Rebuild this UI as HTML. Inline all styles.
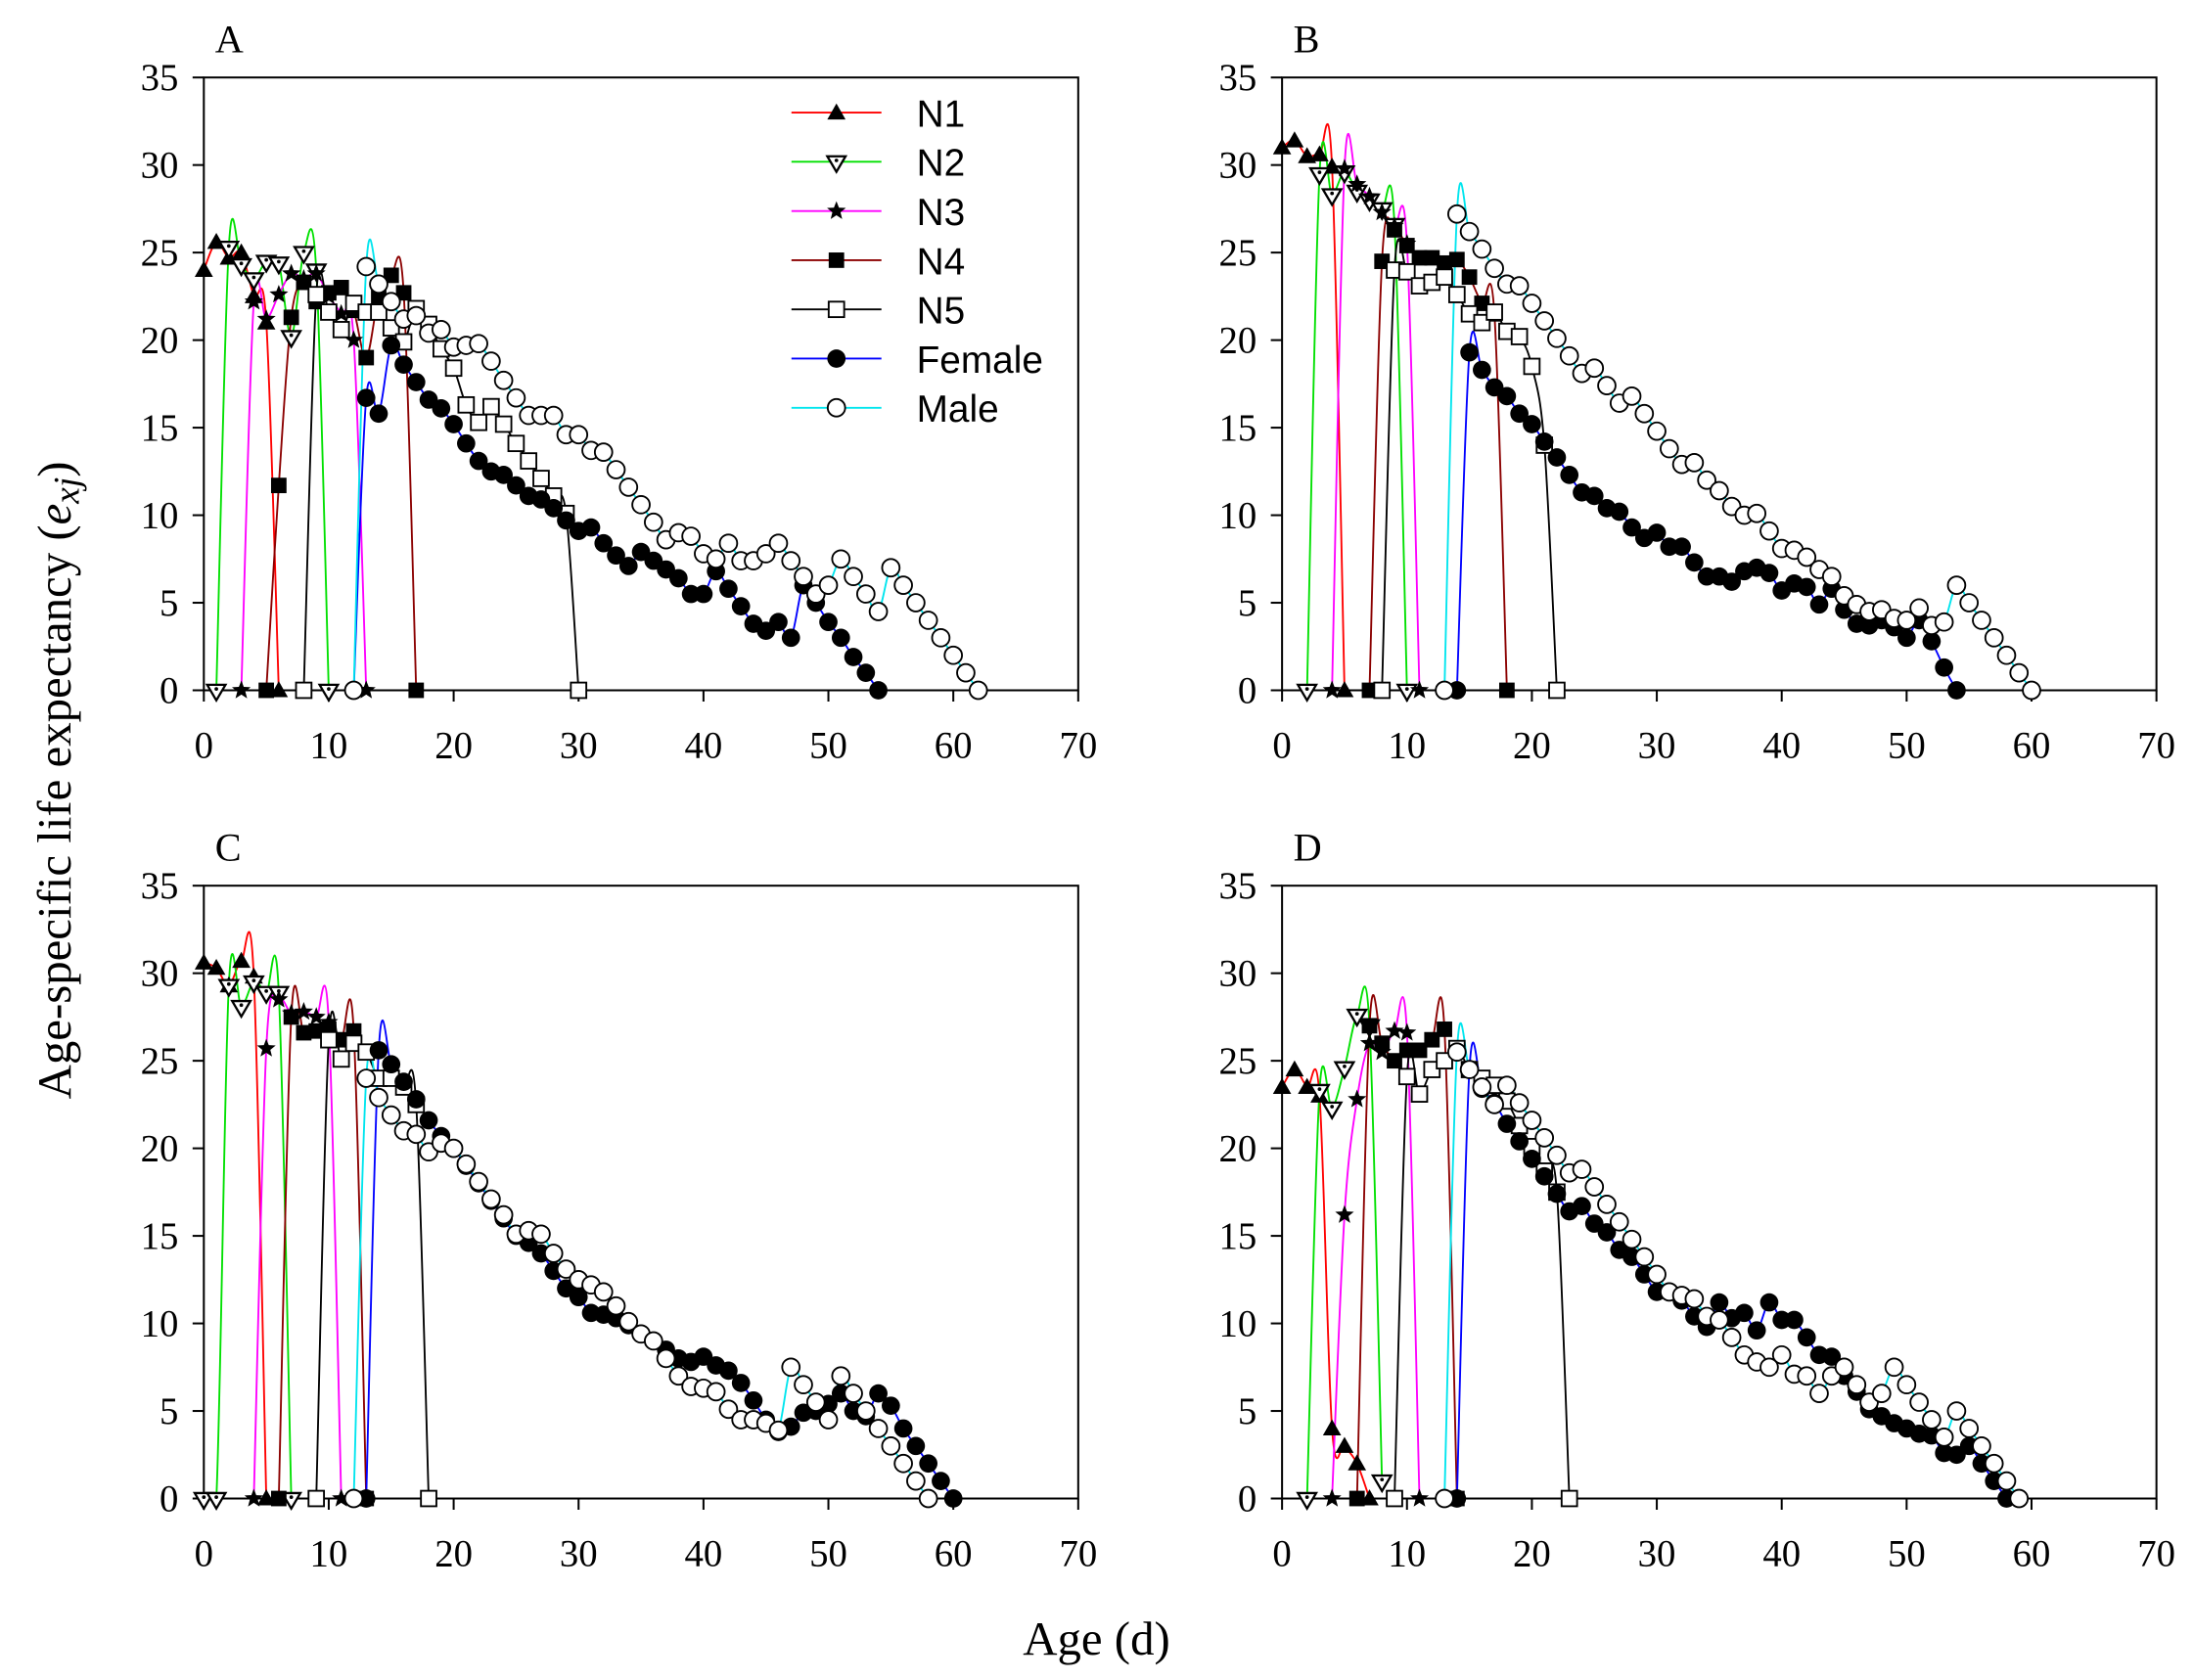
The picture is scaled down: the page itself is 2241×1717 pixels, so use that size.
<!DOCTYPE html>
<html><head><meta charset="utf-8"><style>
html,body{margin:0;padding:0;background:#fff}
svg{display:block}
</style></head><body>
<svg id="chart" width="2241" height="1717" viewBox="0 0 1560 1195" xmlns="http://www.w3.org/2000/svg" font-family="Liberation Serif, serif">
<text x="780" y="1177" font-size="34" text-anchor="middle">Age (d)</text>
<text transform="translate(50,555) rotate(-90)" font-size="34" text-anchor="middle">Age-specific life expectancy (<tspan font-style="italic">e</tspan><tspan font-style="italic" font-size="26" dy="6">xj</tspan><tspan dy="-6">)</tspan></text>
</svg>
<script>
// ---- Data (ages start index + values) ----
const xTicks=[0,10,20,30,40,50,60,70];
const yTicks=[0,5,10,15,20,25,30,35];
const seriesNames=["N1","N2","N3","N4","N5","Female","Male"];
const panelLabels=["A","B","C","D"];
// Panel A
const A_start=[0,1,3,5,8,12,12];
const A_N1=[24,25.6,24.7,25,22.5,21,0];
const A_N2=[0,25.3,24.3,23.5,24.5,24.4,20.2,25,24,0];
const A_N3=[0,22.2,21.2,22.6,23.8,23.5,23.8,22.5,21.5,20,0];
const A_N4=[0,11.7,21.3,23.3,22.2,22.7,23,21.7,19,22.5,23.7,22.7,0];
const A_N5=[0,22.6,21.6,20.6,22.1,21.6,21.6,20.7,19.9,21.8,20.9,19.5,18.4,16.3,15.3,16.2,15.2,14.1,13.1,12.1,11.1,10.1,0];
const A_F=[0,16.7,15.8,19.7,18.6,17.6,16.6,16.1,15.2,14.1,13.1,12.5,12.3,11.7,11.1,10.9,10.4,9.7,9.1,9.3,8.4,7.7,7.1,7.9,7.4,6.9,6.4,5.5,5.5,6.8,5.8,4.8,3.8,3.4,3.9,3,6,5,3.9,3,1.9,1,0];
const A_M=[0,24.2,23.2,22.2,21.2,21.4,20.4,20.6,19.6,19.7,19.8,18.8,17.7,16.7,15.7,15.7,15.7,14.6,14.6,13.7,13.6,12.6,11.6,10.6,9.6,8.6,9,8.8,7.8,7.5,8.4,7.4,7.4,7.8,8.4,7.4,6.5,5.5,6,7.5,6.5,5.5,4.5,7,6,5,4,3,2,1,0];
// Panel B
const B_start=[0,2,4,7,8,14,13];
const B_N1=[31,31.4,30.5,30.6,29.9,0];
const B_N2=[0,29.5,28.3,29.6,28.5,28,27.5,26.6,0];
const B_N3=[0,29.8,28.9,28.2,27.3,26.5,25.5,0];
const B_N4=[0,24.5,26.3,25.4,24.7,24.7,24.4,24.6,23.6,22.1,21.5,0];
const B_N5=[0,24,23.9,23.1,23.3,23.6,22.6,21.5,21,21.6,20.5,20.2,18.5,14,0];
const B_F=[0,19.3,18.3,17.3,16.8,15.8,15.2,14.2,13.3,12.3,11.3,11.1,10.4,10.2,9.3,8.7,9,8.2,8.2,7.3,6.5,6.5,6.2,6.8,7,6.7,5.7,6.1,5.9,4.9,5.8,4.6,3.8,3.7,4,3.6,3,4,2.8,1.3,0];
const B_M=[0,27.2,26.2,25.2,24.1,23.2,23.1,22.1,21.1,20.1,19.1,18.1,18.4,17.4,16.4,16.8,15.8,14.8,13.8,12.9,13,12,11.4,10.5,10,10.1,9.1,8.1,8,7.6,6.9,6.5,5.4,4.9,4.5,4.6,4.1,4,4.7,3.7,3.9,6,5,4,3,2,1,0];
// Panel C
const C_start=[0,0,4,6,9,13,12];
const C_N1=[30.6,30.3,29.3,30.7,29.8,0];
const C_N2=[0,0,29.3,28.1,29.5,28.9,28.9,0];
const C_N3=[0,25.7,28.5,27.7,27.8,27.5,27.2,0];
const C_N4=[0,27.5,26.6,26.7,26.8,26.2,26.7,0];
const C_N5=[0,26.2,25.1,26,25.5,24,24,23.5,22.5,0];
const C_F=[0,25.6,24.8,23.8,22.8,21.6,20.7,20,19,18,17,16,15,14.6,14,13,12,11.5,10.6,10.5,10.3,9.9,9.4,9,8.5,8,7.8,8.1,7.6,7.3,6.6,5.6,4.5,3.8,4.1,4.9,5,5.4,6,5,4.7,6,5.3,4,3,2,1,0];
const C_M=[0,24,22.9,21.9,21,20.8,19.8,20.3,20,19.1,18.1,17.1,16.2,15.1,15.3,15.1,14,13.1,12.5,12.2,11.8,11,10.1,9.4,9,8,7,6.4,6.3,6.1,5.1,4.5,4.5,4.3,3.9,7.5,6.5,5.5,4.5,7,6,5,4,3,2,1,0];
// Panel D
const D_start=[0,2,4,6,9,14,13];
const D_N1=[23.5,24.5,23.5,23,4,3,2,0];
const D_N2=[0,23.3,22.3,24.6,27.6,27,1];
const D_N3=[0,16.2,22.8,26,25.5,26.7,26.6,0];
const D_N4=[0,27,26,25,25.6,25.6,26.2,26.8,0];
const D_N5=[0,24.1,23.1,24.5,25,25.7,24.5,24,23.6,22.7,21.3,20.1,18.7,17.5,0];
const D_F=[0,24.5,23.4,22.6,21.4,20.4,19.4,18.4,17.4,16.4,16.7,15.7,15.2,14.2,13.8,12.8,11.8,11.8,11.3,10.4,9.8,11.2,10.3,10.6,9.6,11.2,10.2,10.2,9.2,8.2,8.1,7,6.1,5.1,4.7,4.3,4,3.7,3.6,2.6,2.5,3,2,1,0];
const D_M=[0,25.5,24.5,23.5,22.5,23.6,22.6,21.6,20.6,19.6,18.6,18.8,17.8,16.8,15.8,14.8,13.8,12.8,11.8,11.6,11.4,10.4,10.2,9.2,8.2,7.8,7.5,8.2,7.1,7,6,7,7.5,6.5,5.5,6,7.5,6.5,5.5,4.5,3.5,5,4,3,2,1,0];

const panelData=[
 {start:A_start,series:[A_N1,A_N2,A_N3,A_N4,A_N5,A_F,A_M]},
 {start:B_start,series:[B_N1,B_N2,B_N3,B_N4,B_N5,B_F,B_M]},
 {start:C_start,series:[C_N1,C_N2,C_N3,C_N4,C_N5,C_F,C_M]},
 {start:D_start,series:[D_N1,D_N2,D_N3,D_N4,D_N5,D_F,D_M]}
];
const colors=["#ff0000","#00e000","#ff00ff","#8b0000","#000000","#0000ff","#00e5ee"];
const NS="http://www.w3.org/2000/svg";
const svg=document.getElementById('chart');
function mk(tag,attrs,parent){const e=document.createElementNS(NS,tag);for(const k in attrs)e.setAttribute(k,attrs[k]);(parent||svg).appendChild(e);return e;}
const boxes=[{l:145,t:55},{l:912,t:55},{l:145,t:630},{l:912,t:630}];
const W=622,H=436;
const defs=mk('defs',{});

function spline(pts){
  if(pts.length<2)return '';
  let d=`M${pts[0][0]},${pts[0][1]}`;
  for(let i=0;i<pts.length-1;i++){
    const p0=pts[Math.max(i-1,0)],p1=pts[i],p2=pts[i+1],p3=pts[Math.min(i+2,pts.length-1)];
    const c1=[p1[0]+(p2[0]-p0[0])/6,p1[1]+(p2[1]-p0[1])/6];
    const c2=[p2[0]-(p3[0]-p1[0])/6,p2[1]-(p3[1]-p1[1])/6];
    d+=` C${c1[0]},${c1[1]} ${c2[0]},${c2[1]} ${p2[0]},${p2[1]}`;
  }
  return d;
}
function marker(type,x,y,g){
  let e;
  const s=6.5;
  if(type===0){e=mk('polygon',{points:`${x},${y-s} ${x-s},${y+s*0.75} ${x+s},${y+s*0.75}`,fill:'#000'},g);}
  else if(type===1){e=mk('polygon',{points:`${x-s},${y-s*0.6} ${x+s},${y-s*0.6} ${x},${y+s*1.1}`,fill:'#fff',stroke:'#000','stroke-width':1.6},g);mk('circle',{cx:x,cy:y-1,r:1.3,fill:'#000'},g);}
  else if(type===2){let p=[];for(let k=0;k<10;k++){const r=k%2?3:7,a=-Math.PI/2+k*Math.PI/5;p.push((x+r*Math.cos(a)).toFixed(1)+','+(y+r*Math.sin(a)).toFixed(1));}e=mk('polygon',{points:p.join(' '),fill:'#000'},g);}
  else if(type===3){e=mk('rect',{x:x-5.5,y:y-5.5,width:11,height:11,fill:'#000'},g);}
  else if(type===4){e=mk('rect',{x:x-5.5,y:y-5.5,width:11,height:11,fill:'#fff',stroke:'#000','stroke-width':1.3},g);}
  else if(type===5){e=mk('circle',{cx:x,cy:y,r:6.5,fill:'#000'},g);}
  else {e=mk('circle',{cx:x,cy:y,r:6.2,fill:'#fff',stroke:'#000','stroke-width':1.3},g);}
  return e;
}

panelData.forEach((pd,pi)=>{
  const b=boxes[pi];
  const xs=v=>b.l+v/70*W, ys=v=>b.t+H-v/35*H;
  const cp=mk('clipPath',{id:'clip'+pi},defs);
  mk('rect',{x:b.l,y:b.t-30,width:W,height:H+30},cp);
  const g=mk('g',{});
  
  
  const lab=mk('text',{x:b.l+8,y:b.t-18,'font-size':28},g);lab.textContent=panelLabels[pi];
  
  
  const frame=mk('rect',{x:b.l,y:b.t,width:W,height:H,fill:'none',stroke:'#000','stroke-width':1.4},g);
  
  
  xTicks.forEach(t=>{
    mk('line',{x1:xs(t),x2:xs(t),y1:b.t+H,y2:b.t+H+8,stroke:'#000','stroke-width':1.4},g);
    const tx=mk('text',{x:xs(t),y:b.t+H+48,'font-size':27,'text-anchor':'middle'},g);tx.textContent=t;
    
    
  });
  yTicks.forEach(t=>{
    mk('line',{x1:b.l-8,x2:b.l,y1:ys(t),y2:ys(t),stroke:'#000','stroke-width':1.4},g);
    const tx=mk('text',{x:b.l-18,y:ys(t)+9,'font-size':27,'text-anchor':'end'},g);tx.textContent=t;
    
    
  });
  const lg2=mk('g',{'clip-path':`url(#clip${pi})`},g);
  pd.series.forEach((vals,si)=>{
    const pts=vals.map((v,i)=>[xs(pd.start[si]+i),ys(v)]);
    const p=mk('path',{d:spline(pts),fill:'none',stroke:colors[si],'stroke-width':1.3},lg2);
    
    
  });
  pd.series.forEach((vals,si)=>{
    vals.forEach((v,i)=>{
      const m=marker(si,xs(pd.start[si]+i),ys(v),g);
      
      
    });
  });
});
// legend
const lg=mk('g',{});


seriesNames.forEach((n,i)=>{
  const y=80+i*35;
  mk('line',{x1:563,x2:627,y1:y,y2:y,stroke:colors[i],'stroke-width':1.3},lg);
  marker(i,595,y,lg);
  const t=mk('text',{x:652,y:y+10,'font-size':27,'font-family':'Liberation Sans, sans-serif'},lg);t.textContent=n;
  
  
});
</script>
</body></html>
